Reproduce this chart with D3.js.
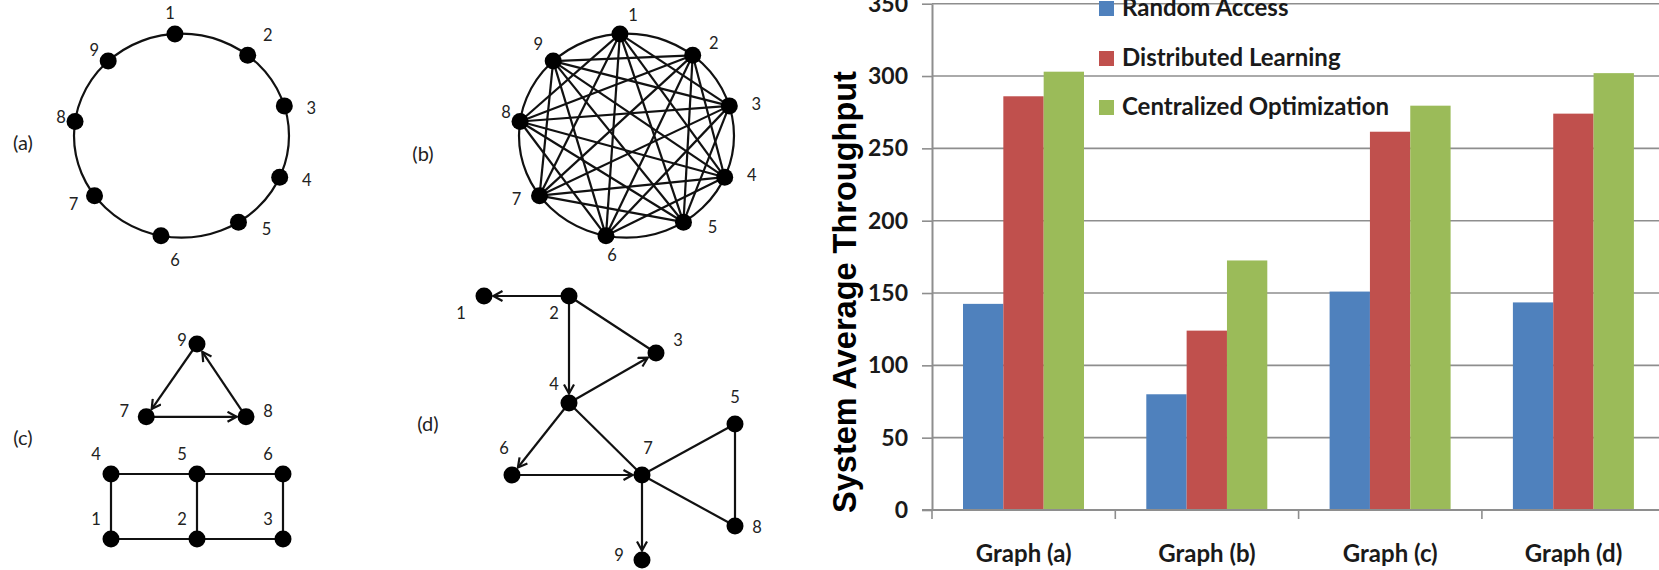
<!DOCTYPE html>
<html>
<head>
<meta charset="utf-8">
<script src="https://cdn.jsdelivr.net/npm/d3@7"></script>
<style>
    body { margin: 0; background: #fff; }
    svg { display: block; }
</style>
</head>
<body>
<div id="figure"></div>
<script>
// bar chart data
var categories = ["Graph (a)", "Graph (b)", "Graph (c)", "Graph (d)"];
var seriesNames = ["Random Access", "Distributed Learning", "Centralized Optimization"];
var randomAccess = [142.5, 80, 151, 143.5];
var distributedLearning = [286, 124, 261.5, 274];
var centralizedOptimization = [303, 172.5, 279.5, 302];
var yTicks = [0, 50, 100, 150, 200, 250, 300, 350];
var seriesColors = ["#4F81BD", "#C0504D", "#9BBB59"];

// network diagrams
var nodeIds = [1, 2, 3, 4, 5, 6, 7, 8, 9];
var panelNames = ["(a)", "(b)", "(c)", "(d)"];
var ringAnglesDeg = [-3.5, 38, 73, 114, 148, 191, 234, 278, 317];
var chordEdgesB = [
    [1, 3], [1, 4], [1, 5], [1, 6], [1, 7], [1, 8],
    [2, 4], [2, 5], [2, 6], [2, 7], [2, 8], [2, 9],
    [3, 5], [3, 6], [3, 7], [3, 8], [3, 9],
    [4, 6], [4, 7], [4, 8], [4, 9],
    [5, 7], [5, 8], [5, 9],
    [6, 8], [6, 9],
    [7, 9]
];
var gridNodesC = [[0, 3], [1, 3], [2, 3], [0, 2], [1, 2], [2, 2], [0.41, 1.12], [1.57, 1.12], [1, 0]];
var edgesC = [[9, 7, 1], [7, 8, 1], [8, 9, 1], [4, 5, 0], [5, 6, 0], [1, 2, 0], [2, 3, 0], [4, 1, 0], [5, 2, 0], [6, 3, 0]];
var nodesD = [[0, 0], [85, 0], [172, 57], [85, 107], [251, 128], [28, 179], [158, 179], [251, 230], [158, 264]];
var edgesD = [[2, 1, 1], [2, 3, 0], [2, 4, 1], [4, 3, 1], [4, 6, 1], [4, 7, 0], [6, 7, 1], [7, 5, 0], [7, 8, 0], [5, 8, 0], [7, 9, 1]];

// label placement around each node (px)
var labelOffsetsA = [[-5, -21], [20, -20], [27, 2], [27, 3], [28, 7], [14, 24], [-21, 8], [-14, -5], [-14, -11]];
var labelOffsetsB = [[13, -19], [21, -12], [27, -2], [27, -2], [29, 5], [6, 19], [-23, 3], [-14, -10], [-15, -17]];
var labelOffsetsC = [[-15, -20], [-15, -20], [-15, -20], [-15, -20], [-15, -20], [-15, -20], [-22, -6], [22, -6], [-15, -4]];
var labelOffsetsD = [[-23, 17], [-15, 17], [22, -13], [-15, -19], [0, -27], [-8, -27], [6, -27], [22, 1], [-23, -5]];

var W = 1659, H = 570;
var NODE_R = 8.5;

var utils = (function () {
    return {
        create_svg: function (placement, width, height) {
            var svg = d3.select(placement).append("svg")
                .attr("width", width)
                .attr("height", height);
            return svg;
        },
        byId: function (nodes) {
            var m = {};
            nodes.forEach(function (n) { m[n.id] = n; });
            return m;
        }
    }
})();

var graphs = (function () {

    function ring_nodes(cx, cy, rx, ry, offsets) {
        var xs = d3.scaleLinear().domain([-1, 1]).range([cx - rx, cx + rx]);
        var ys = d3.scaleLinear().domain([-1, 1]).range([cy - ry, cy + ry]);
        return nodeIds.map(function (id, i) {
            var a = ringAnglesDeg[i] * Math.PI / 180;
            return {id: id, x: xs(Math.sin(a)), y: ys(-Math.cos(a)),
                lx: offsets[i][0], ly: offsets[i][1]};
        });
    }

    function layout_nodes(pts, xs, ys, offsets) {
        return nodeIds.map(function (id, i) {
            return {id: id, x: xs(pts[i][0]), y: ys(pts[i][1]),
                lx: offsets[i][0], ly: offsets[i][1]};
        });
    }

    function draw_edges(g, nodes, edges) {
        var m = utils.byId(nodes);
        g.selectAll("line.edge").data(edges).enter().append("line")
            .attr("class", "edge")
            .attr("x1", function (d) { return m[d[0]].x; })
            .attr("y1", function (d) { return m[d[0]].y; })
            .attr("x2", function (d) {
                var s = m[d[0]], t = m[d[1]];
                if (!d[2]) return t.x;
                var dx = t.x - s.x, dy = t.y - s.y, L = Math.sqrt(dx * dx + dy * dy);
                return t.x - dx / L * (NODE_R + 1);
            })
            .attr("y2", function (d) {
                var s = m[d[0]], t = m[d[1]];
                if (!d[2]) return t.y;
                var dx = t.x - s.x, dy = t.y - s.y, L = Math.sqrt(dx * dx + dy * dy);
                return t.y - dy / L * (NODE_R + 1);
            })
            .attr("stroke", "#111")
            .attr("stroke-width", 2.2)
            .attr("marker-end", function (d) { return d[2] ? "url(#arrow)" : null; });
    }

    function draw_nodes(g, nodes) {
        g.selectAll("circle.node").data(nodes).enter().append("circle")
            .attr("class", "node")
            .attr("cx", function (d) { return d.x; })
            .attr("cy", function (d) { return d.y; })
            .attr("r", NODE_R)
            .attr("fill", "#000");

        g.selectAll("text.nlabel").data(nodes).enter().append("text")
            .attr("class", "nlabel")
            .attr("x", function (d) { return d.x + d.lx; })
            .attr("y", function (d) { return d.y + d.ly; })
            .attr("text-anchor", "middle")
            .attr("dominant-baseline", "central")
            .style("font-family", "Lato, 'Open Sans', sans-serif")
            .style("font-size", "16.5px")
            .style("fill", "#222")
            .text(function (d) { return d.id; });
    }

    return {
        draw: function (svg) {
            var defs = svg.append("defs");
            defs.append("marker")
                .attr("id", "arrow")
                .attr("viewBox", "0 0 12 12")
                .attr("refX", 10.5)
                .attr("refY", 6)
                .attr("markerWidth", 12)
                .attr("markerHeight", 12)
                .attr("markerUnits", "userSpaceOnUse")
                .attr("orient", "auto")
                .append("path")
                .attr("d", "M1.5,1 L10.5,6 L1.5,11")
                .attr("fill", "none")
                .attr("stroke", "#111")
                .attr("stroke-width", 2.2);

            // (a) ring
            var gA = svg.append("g");
            var nodesA = ring_nodes(181.5, 135.7, 107.5, 102, labelOffsetsA);
            gA.append("ellipse").attr("cx", 181.5).attr("cy", 135.7).attr("rx", 107.5).attr("ry", 102)
                .attr("fill", "none").attr("stroke", "#111").attr("stroke-width", 2.2);
            draw_nodes(gA, nodesA);

            // (b) complete graph
            var gB = svg.append("g");
            var nodesB = ring_nodes(626.5, 135.7, 107.5, 102, labelOffsetsB);
            gB.append("ellipse").attr("cx", 626.5).attr("cy", 135.7).attr("rx", 107.5).attr("ry", 102)
                .attr("fill", "none").attr("stroke", "#111").attr("stroke-width", 2.2);
            draw_edges(gB, nodesB, chordEdgesB.map(function (e) { return [e[0], e[1], 0]; }));
            draw_nodes(gB, nodesB);

            // (c)
            var gC = svg.append("g");
            var nodesC = layout_nodes(gridNodesC,
                d3.scaleLinear().domain([0, 2]).range([111, 283]),
                d3.scaleLinear().domain([0, 3]).range([344, 539]), labelOffsetsC);
            draw_edges(gC, nodesC, edgesC);
            draw_nodes(gC, nodesC);

            // (d)
            var gD = svg.append("g");
            var nodesDd = layout_nodes(nodesD,
                d3.scaleLinear().domain([0, 251]).range([484, 735]),
                d3.scaleLinear().domain([0, 264]).range([296, 560]), labelOffsetsD);
            draw_edges(gD, nodesDd, edgesD);
            draw_nodes(gD, nodesDd);

            var panelPos = [[23, 142], [423, 153], [23, 437], [428, 423]];
            svg.selectAll("text.panel").data(panelNames).enter().append("text")
                .attr("class", "panel")
                .attr("x", function (d, i) { return panelPos[i][0]; })
                .attr("y", function (d, i) { return panelPos[i][1]; })
                .attr("text-anchor", "middle")
                .attr("dominant-baseline", "central")
                .style("font-family", "Lato, 'Open Sans', sans-serif")
                .style("font-size", "20px")
                .style("fill", "#222")
                .text(function (d) { return d; });
        }
    }
})();

var bar_chart = (function () {
    return {
        draw: function (svg) {
            var left = 932, bottom = 510, top = 3.7, step = 183.3;
            var x0 = d3.scaleBand().domain(categories).range([left, left + step * categories.length]).padding(0);
            var x1 = d3.scaleBand().domain(seriesNames).range([31, 152]).padding(0);
            var y = d3.scaleLinear().domain([0, 350]).range([bottom, top]);
            var values = [randomAccess, distributedLearning, centralizedOptimization];
            var grid = "#8e8e8e";

            var g = svg.append("g");

            // gridlines
            g.append("g").selectAll("line").data(yTicks.slice(1)).enter().append("line")
                .attr("x1", left).attr("x2", W)
                .attr("y1", function (d) { return y(d); })
                .attr("y2", function (d) { return y(d); })
                .attr("stroke", grid).attr("stroke-width", 1.6);

            // bars
            var groups = g.selectAll("g.cat").data(categories).enter().append("g")
                .attr("class", "cat")
                .attr("transform", function (d) { return "translate(" + x0(d) + ",0)"; });
            groups.selectAll("rect").data(function (d, ci) {
                return seriesNames.map(function (s, si) { return {s: s, v: values[si][ci], c: seriesColors[si]}; });
            }).enter().append("rect")
                .attr("x", function (d) { return x1(d.s); })
                .attr("width", x1.bandwidth())
                .attr("y", function (d) { return y(d.v); })
                .attr("height", function (d) { return bottom - y(d.v); })
                .attr("fill", function (d) { return d.c; });

            // y axis
            var yAxis = g.append("g")
                .attr("transform", "translate(" + left + ",0)")
                .call(d3.axisLeft(y).tickValues(yTicks).tickSize(10).tickSizeOuter(0).tickPadding(14));
            yAxis.select(".domain").attr("stroke", grid).attr("stroke-width", 2);
            yAxis.selectAll(".tick line").attr("stroke", grid).attr("stroke-width", 1.6);
            yAxis.selectAll(".tick text")
                .style("font-family", "Lato, sans-serif")
                .style("font-weight", "bold")
                .style("font-size", "23px")
                .style("fill", "#1a1a1a");

            // x axis
            g.append("line").attr("x1", left - 10).attr("x2", W).attr("y1", bottom).attr("y2", bottom)
                .attr("stroke", grid).attr("stroke-width", 2);
            g.append("g").selectAll("line").data(categories).enter().append("line")
                .attr("x1", function (d) { return x0(d); })
                .attr("x2", function (d) { return x0(d); })
                .attr("y1", bottom).attr("y2", bottom + 9)
                .attr("stroke", grid).attr("stroke-width", 1.6);
            g.append("g").selectAll("text").data(categories).enter().append("text")
                .attr("x", function (d) { return x0(d) + x0.bandwidth() / 2; })
                .attr("y", 562)
                .attr("text-anchor", "middle")
                .style("font-family", "Lato, sans-serif")
                .style("font-weight", "bold")
                .style("font-size", "24px")
                .style("fill", "#1a1a1a")
                .text(function (d) { return d; });

            // title
            g.append("text")
                .attr("transform", "translate(845,292) rotate(-90)")
                .attr("text-anchor", "middle")
                .attr("dominant-baseline", "central")
                .style("font-family", "'Liberation Sans', Arial, sans-serif")
                .style("font-weight", "bold")
                .style("font-size", "32.5px")
                .style("fill", "#000")
                .text("System Average Throughput");

            // legend
            var legendY = [16, 66, 115];
            var leg = g.append("g").selectAll("g").data(seriesNames).enter().append("g")
                .attr("transform", function (d, i) { return "translate(1099," + legendY[i] + ")"; });
            leg.append("rect").attr("x", 0).attr("y", -15).attr("width", 15).attr("height", 15)
                .attr("fill", function (d, i) { return seriesColors[i]; });
            leg.append("text").attr("x", 23).attr("y", 0)
                .style("font-family", "Lato, sans-serif")
                .style("font-weight", "bold")
                .style("font-size", "24px")
                .style("fill", "#1a1a1a")
                .text(function (d) { return d; });
        }
    }
})();

var svg = utils.create_svg("#figure", W, H);
svg.append("rect").attr("width", W).attr("height", H).attr("fill", "#fff");
graphs.draw(svg);
bar_chart.draw(svg);
</script>
</body>
</html>
